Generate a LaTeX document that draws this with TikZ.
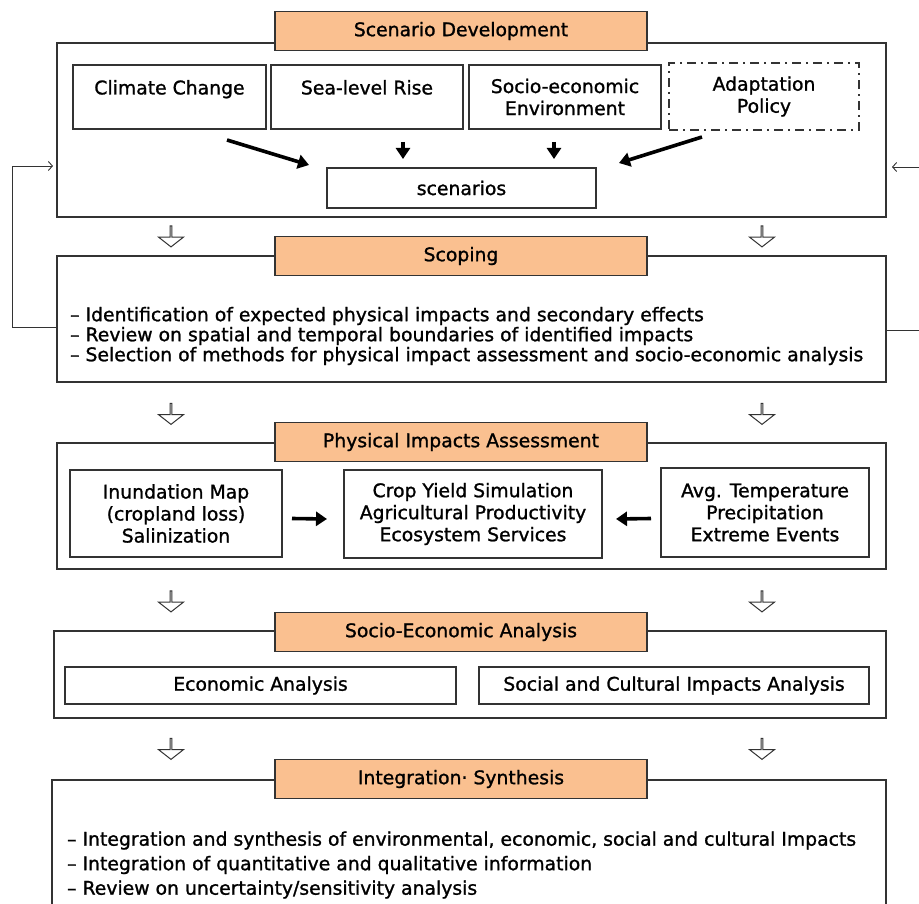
\documentclass[tikz,border=0pt]{standalone}
\usepackage{fontspec}
\setmainfont{DejaVu Sans}[FakeBold=1.2]
\usetikzlibrary{arrows.meta,shapes.arrows}
\definecolor{peach}{HTML}{FAC090}
\definecolor{framegray}{HTML}{333333}
\newcommand{\stagefont}{\fontsize{18.8}{22}\selectfont}
\newcommand{\scopefont}{\fontsize{18.8}{20}\selectfont}
\newcommand{\synthfont}{\fontsize{18.8}{24.5}\selectfont}

\tikzset{
  stageframe/.style={rectangle,draw=framegray,line width=1.3pt,inner sep=0pt,outer sep=0pt,anchor=north west},
  stagehead/.style={rectangle,draw=framegray,line width=1.3pt,fill=peach,minimum width=372pt,minimum height=39pt,inner sep=0pt,font=\stagefont},
  itembox/.style={rectangle,draw=framegray,line width=1.2pt,inner sep=0pt,outer sep=0pt,anchor=north west,align=center,font=\stagefont},
  policybox/.style={itembox,line width=2pt,dash pattern=on 9pt off 5pt on 2pt off 5pt},
  listtext/.style={anchor=west,align=left,inner sep=0pt},
  thickarrow/.style={-{Triangle[length=11pt,width=14pt]},line width=3.6pt,black},
  loopline/.style={-{Straight Barb[length=4pt,width=9pt]},line width=0.9pt,framegray},
  hollowdown/.style={single arrow,draw=framegray,fill=white,line width=1pt,shape border rotate=270,minimum height=21pt,minimum width=25pt,single arrow head extend=6pt,single arrow tip angle=104,inner sep=0pt}
}

\begin{document}
\begin{tikzpicture}[x=1pt,y=-1pt]
\useasboundingbox (0,0) rectangle (919,904);
\clip (0,0) rectangle (919,904);
% scenario development
\node[stageframe,minimum width=829pt,minimum height=174pt] (scenframe) at (57,43) {};
\node[stagehead] (scenhead) at (461,31) {Scenario Development};
\node[itembox,minimum width=193pt,minimum height=64pt] (climate) at (73,65) {\strut\\[-14pt]Climate Change\\\strut};
\node[itembox,minimum width=192pt,minimum height=64pt] (sealevel) at (271,65) {\strut\\[-14pt]Sea-level Rise\\\strut};
\node[itembox,minimum width=192pt,minimum height=64pt] (socioenv) at (469,65) {Socio-economic\\Environment};
\node[policybox,minimum width=190pt,minimum height=67pt] (policy) at (669,63) {Adaptation\\Policy};
\node[itembox,minimum width=269pt,minimum height=40pt] (scenarios) at (327,168) {scenarios};
\draw[thickarrow] ([shift={(-39,11)}]climate.south east) -- ([shift={(-18,-3)}]scenarios.north west);
\draw[thickarrow] ([shift={(36,13)}]sealevel.south) -- ([shift={(76,-9)}]scenarios.north west);
\draw[thickarrow] ([shift={(-11,13)}]socioenv.south) -- ([shift={(-42,-9)}]scenarios.north east);
\draw[thickarrow] ([shift={(-62,7)}]policy.south) -- ([shift={(23,-5)}]scenarios.north east);
\node[hollowdown] (gapA1) at (171,236) {};
\node[hollowdown] (gapA2) at (762,236) {};
% scoping
\node[stageframe,minimum width=829pt,minimum height=126pt] (scopeframe) at (57,256) {};
\node[stagehead] (scopehead) at (461,256) {Scoping};
\node[listtext,font=\scopefont] (scopelist) at (70,336) {– Identification of expected physical impacts and secondary effects\\– Review on spatial and temporal boundaries of identified impacts\\– Selection of methods for physical impact assessment and socio-economic analysis};
\coordinate (loopL) at (12,166);
\coordinate (tipL) at (53,166);
\draw[loopline] ([shift={(0,8)}]scopeframe.west) -| (loopL) -- (tipL);
\coordinate (loopR) at (921,167);
\coordinate (tipR) at (892,167);
\draw[loopline] ([shift={(0,11)}]scopeframe.east) -| (loopR) -- (tipR);
\node[hollowdown] (gapB1) at (171,413.5) {};
\node[hollowdown] (gapB2) at (762,413.5) {};
% physical impacts
\node[stageframe,minimum width=829pt,minimum height=126pt] (physframe) at (57,443) {};
\node[stagehead] (physhead) at (461,442) {Physical Impacts Assessment};
\node[itembox,minimum width=212pt,minimum height=87pt] (inund) at (70,470) {Inundation Map\\(cropland loss)\\Salinization};
\node[itembox,minimum width=258pt,minimum height=88pt] (crop) at (344,470) {Crop Yield Simulation\\Agricultural Productivity\\Ecosystem Services};
\node[itembox,minimum width=208pt,minimum height=89pt] (avg) at (661,468) {Avg. Temperature\\Precipitation\\Extreme Events};
\draw[thickarrow] ([shift={(10,5)}]inund.east) -- ([shift={(-17,5)}]crop.west);
\draw[thickarrow] ([shift={(-10,6)}]avg.west) -- ([shift={(14,5)}]crop.east);
\node[hollowdown] (gapC1) at (171,601) {};
\node[hollowdown] (gapC2) at (762,601) {};
% socio-economic analysis
\node[stageframe,minimum width=832pt,minimum height=87pt] (socframe) at (54,631) {};
\node[stagehead] (sochead) at (461,632) {Socio-Economic Analysis};
\node[itembox,minimum width=391pt,minimum height=37pt] (econ) at (65,667) {Economic Analysis};
\node[itembox,minimum width=390pt,minimum height=37pt] (social) at (479,667) {Social and Cultural Impacts Analysis};
\node[hollowdown] (gapD1) at (171,748.5) {};
\node[hollowdown] (gapD2) at (762,748.5) {};
% integration
\node[stageframe,minimum width=834pt,minimum height=140pt] (intframe) at (52,780) {};
\node[stagehead] (inthead) at (461,779) {Integration· Synthesis};
\node[listtext,font=\synthfont] (intlist) at (67,865) {– Integration and synthesis of environmental, economic, social and cultural Impacts\\– Integration of quantitative and qualitative information\\– Review on uncertainty/sensitivity analysis};
\end{tikzpicture}
\end{document}
